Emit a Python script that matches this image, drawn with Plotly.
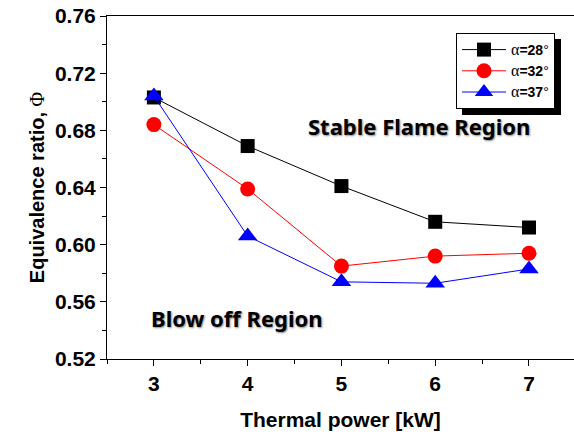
import plotly.graph_objects as go

power = [3, 4, 5, 6, 7]
phi_28 = [0.703, 0.669, 0.641, 0.616, 0.612]
phi_32 = [0.684, 0.639, 0.585, 0.592, 0.594]
phi_37 = [0.704, 0.606, 0.574, 0.573, 0.583]
y_ticks = [0.52, 0.56, 0.60, 0.64, 0.68, 0.72, 0.76]
x_ticks = [3, 4, 5, 6, 7]
labels = ["28", "32", "37"]

fig = go.Figure()
series = [
    (phi_28, "black", "square", 14),
    (phi_32, "red", "circle", 15),
    (phi_37, "blue", "triangle-up", 17),
]
for lab, (ys, col, sym, sz) in zip(labels, series):
    name = ("<span style='font-family:Liberation Serif;font-weight:normal;font-size:16px'>α</span>"
            "<b>=" + lab + "</b><span style='font-weight:normal'>°</span>")
    fig.add_trace(go.Scatter(
        x=power, y=ys, name=name, mode="lines+markers",
        line=dict(color=col, width=1),
        marker=dict(symbol=sym, size=sz, color=col, line=dict(width=0)),
    ))

fig.update_layout(
    width=574, height=434,
    margin=dict(l=107, r=0, t=16, b=75),
    paper_bgcolor="white", plot_bgcolor="white",
    showlegend=True,
    legend=dict(x=(456 - 107) / 467, y=(359 - 33) / 343, xanchor="left", yanchor="top",
                bgcolor="white", bordercolor="black", borderwidth=1,
                font=dict(family="Liberation Sans", size=14, color="black"),
                itemwidth=44, tracegroupgap=0),
    font=dict(family="Liberation Sans", color="black"),
)
fig.update_xaxes(
    range=[2.5, 7.48], tickvals=x_ticks, ticks="outside", ticklen=6,
    tickwidth=1, tickcolor="black", showline=True, linecolor="black",
    linewidth=1, mirror=True, showgrid=False, zeroline=False,
    tickfont=dict(family="Liberation Sans", size=21, color="black", weight="bold"),
    minor=dict(ticks="outside", ticklen=4, dtick=0.5, tickcolor="black", showgrid=False),
    title=dict(text="Thermal power [kW]", standoff=18,
               font=dict(family="Liberation Sans", size=21, color="black", weight="bold")),
)
fig.update_yaxes(
    range=[0.52, 0.76], tickvals=y_ticks, tickformat=".2f", ticks="outside",
    ticklen=6, tickwidth=1, tickcolor="black", showline=True,
    linecolor="black", linewidth=1, mirror=False, showgrid=False,
    zeroline=False,
    tickfont=dict(family="Liberation Sans", size=21, color="black", weight="bold"),
    minor=dict(ticks="outside", ticklen=4, dtick=0.02, tickcolor="black", showgrid=False),
    title=dict(text="Equivalence ratio, <span style='font-family:Liberation Serif;font-weight:normal'>Φ</span>",
               standoff=4,
               font=dict(family="Liberation Sans", size=20, color="black", weight="bold")),
)

# legend shadow
fig.add_shape(type="rect", xref="paper", yref="paper",
              x0=(462 - 107) / 467, x1=(561 - 107) / 467,
              y0=(359 - 115) / 343, y1=(359 - 39) / 343,
              fillcolor="black", line=dict(width=0), layer="above")

fig.add_annotation(x=5.83, y=0.683, xref="x", yref="y", text="Stable Flame Region",
                   showarrow=False,
                   font=dict(family="Noto Sans", size=22, color="black", weight="bold",
                             shadow="1px 1px 2px #888"))
fig.add_annotation(x=3.89, y=0.549, xref="x", yref="y", text="Blow off Region",
                   showarrow=False,
                   font=dict(family="Noto Sans", size=22, color="black", weight="bold",
                             shadow="1px 1px 2px #888"))

fig.write_html("out.html")
